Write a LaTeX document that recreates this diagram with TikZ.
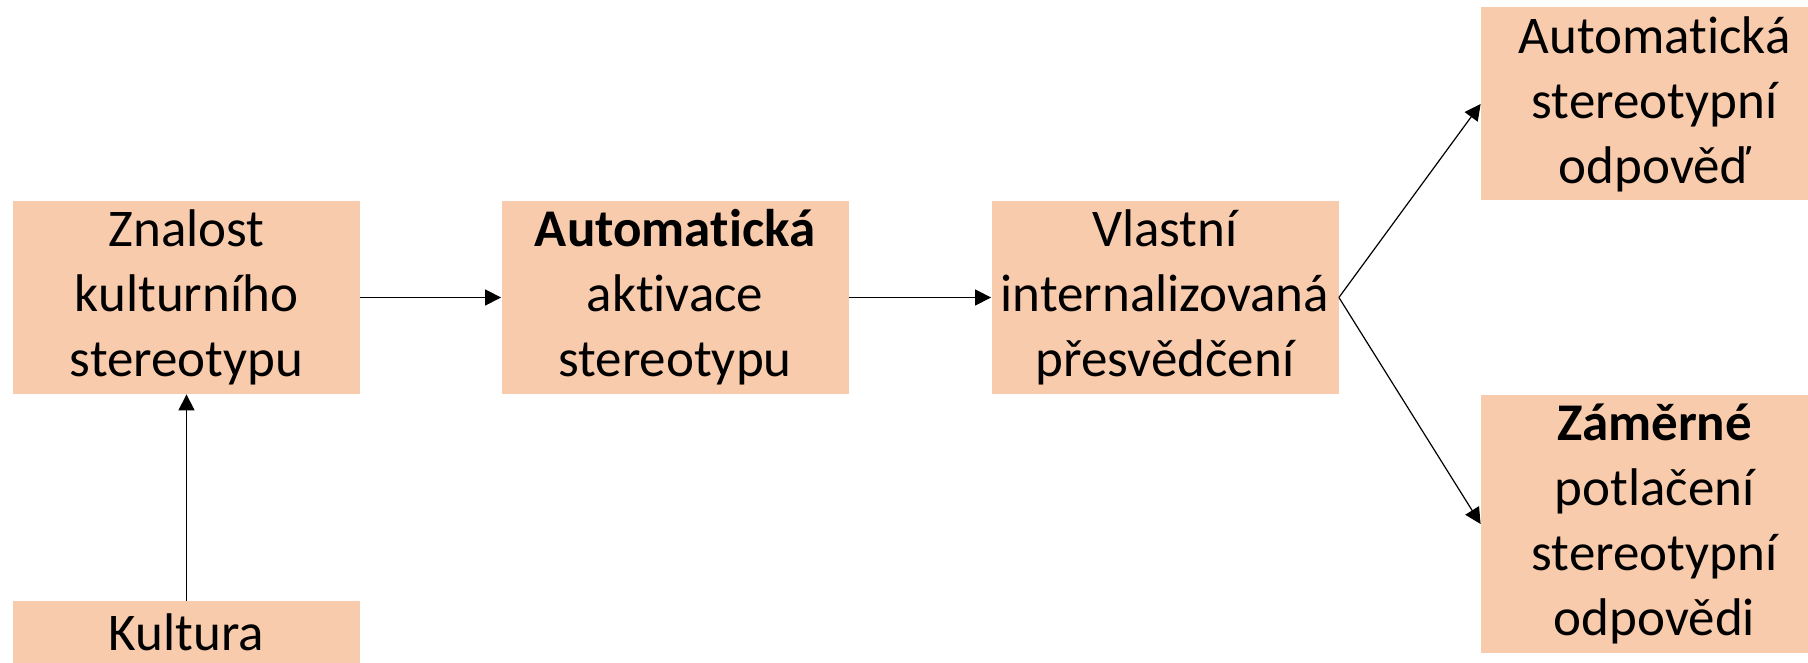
\documentclass[tikz,border=0pt]{standalone}
\usepackage{fontspec}
\setmainfont{Carlito}[Ligatures=NoCommon]
\usetikzlibrary{arrows.meta}
\definecolor{peach}{RGB}{248,203,173}
\tikzset{
	box/.style={fill=peach, minimum width=173.5pt, minimum height=96.5pt, inner sep=0pt, align=center, font=\fontsize{26.5}{32.5}\selectfont},
	arrow/.style={-{Triangle[length=8pt,width=8pt]}, line width=0.6pt}
}
\begin{document}
\begin{tikzpicture}[x=0.5pt,y=0.5pt]
	% frame of the page
	\useasboundingbox (0,0) rectangle (1808,663);
	\clip (0,0) rectangle (1808,663);
	% main row
	\node[box] (knowledge) at (186.5,365.5) {Znalost\\kulturního\\stereotypu};
	\node[box] (activation) at (675,365.5) {\textbf{Automatická}\\aktivace\\stereotypu};
	\node[box] (belief) at (1165,365.5) {Vlastní\\internalizovaná\\přesvědčení};
	% culture below
	\node[box, minimum height=0pt, text height=25pt, text depth=20pt, anchor=base] (culture) at (186.5,12) {Kultura};
	% two responses
	\node[box] (automatic) at (1654.5,559) {Automatická\\stereotypní\\odpověď};
	\node[box, minimum height=129pt] (suppression) at (1654.5,139) {\textbf{Záměrné}\\potlačení\\stereotypní\\odpovědi};
	% arrows
	\draw[arrow] (culture) -- (knowledge);
	\draw[arrow] (knowledge) -- (activation);
	\draw[arrow] (activation) -- (belief);
	\draw[arrow] (belief.east) -- (automatic.west);
	\draw[arrow] (belief.east) -- (suppression.west);
\end{tikzpicture}
\end{document}
